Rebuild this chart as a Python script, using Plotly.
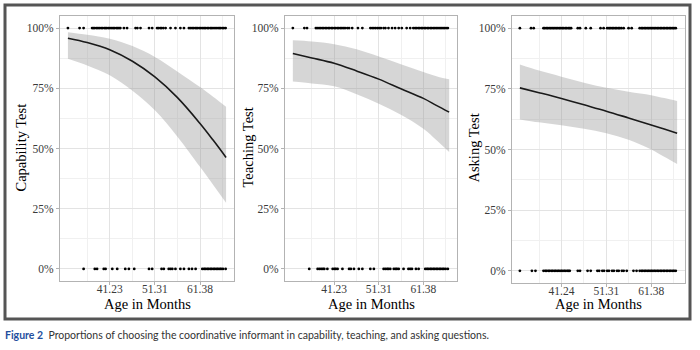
import plotly.graph_objects as go

# ---------------- data ----------------
age_grid = [31.9, 36.2, 41.23, 46.3, 51.31, 56.3, 61.38, 64.3, 67.2]

cap_fit   = [0.958, 0.940, 0.910, 0.862, 0.797, 0.712, 0.604, 0.535, 0.463]
cap_upper = [0.983, 0.972, 0.956, 0.925, 0.880, 0.820, 0.755, 0.715, 0.673]
cap_lower = [0.873, 0.845, 0.804, 0.740, 0.659, 0.550, 0.424, 0.350, 0.275]

tea_fit   = [0.894, 0.876, 0.854, 0.822, 0.788, 0.748, 0.708, 0.679, 0.651]
tea_upper = [0.949, 0.944, 0.933, 0.912, 0.882, 0.850, 0.818, 0.800, 0.787]
tea_lower = [0.778, 0.770, 0.758, 0.725, 0.686, 0.640, 0.582, 0.535, 0.485]

ask_fit   = [0.754, 0.734, 0.710, 0.684, 0.658, 0.630, 0.601, 0.584, 0.567]
ask_upper = [0.850, 0.825, 0.800, 0.775, 0.754, 0.738, 0.724, 0.712, 0.700]
ask_lower = [0.624, 0.612, 0.600, 0.585, 0.567, 0.540, 0.500, 0.470, 0.440]

cap_ones = [31.9, 34.5, 35.4, 37.3, 37.6, 37.9, 38.3, 38.6, 38.9, 39.3, 39.6, 40.0, 40.3,
            40.6, 41.0, 41.3, 41.7, 42.0, 42.3, 42.7, 43.0, 43.3, 43.6, 44.4, 45.1, 47.0,
            47.4, 48.1, 50.0, 50.7, 51.8, 52.1, 52.5, 52.8, 53.2, 53.7, 54.8, 55.9, 57.0,
            57.8, 58.9, 59.2, 59.6, 59.9, 60.3, 60.6, 60.9, 61.3, 61.6, 62.0, 62.3, 62.6,
            63.0, 63.3, 63.7, 64.0, 64.3, 64.7, 65.0, 65.4, 65.7, 66.0, 66.4, 66.7, 67.1]
cap_zeros = [35.4, 37.9, 38.4, 39.9, 40.3, 41.8, 42.9, 44.7, 45.5, 46.7, 50.0, 50.7, 52.8,
             53.3, 54.4, 54.8, 55.2, 55.9, 57.0, 57.8, 58.9, 59.6, 60.4, 61.9, 62.3, 62.6,
             63.0, 63.3, 63.7, 64.0, 64.4, 64.7, 65.1, 65.4, 65.8, 66.1, 66.5, 67.1]

tea_ones = [31.9, 34.5, 35.1, 37.1, 37.4, 37.8, 38.1, 38.5, 38.8, 39.2, 39.5, 39.9, 40.2,
            40.6, 40.9, 41.3, 41.6, 42.0, 42.3, 42.7, 43.0, 43.4, 43.7, 44.2, 44.6, 45.3,
            46.6, 47.6, 49.4, 49.8, 50.2, 50.6, 51.0, 51.4, 51.8, 52.4, 52.8, 53.5, 54.3,
            55.0, 55.8, 56.5, 57.6, 58.4, 59.1, 59.5, 59.8, 60.2, 60.5, 60.9, 61.2, 61.6,
            61.9, 62.3, 62.6, 63.0, 63.3, 63.7, 64.0, 64.4, 64.7, 65.1, 65.4, 65.8, 66.1,
            66.5, 66.9]
tea_zeros = [35.6, 37.5, 37.9, 38.3, 38.7, 39.0, 39.7, 40.9, 41.3, 41.6, 42.0, 43.1, 44.6,
             45.0, 45.7, 46.8, 47.6, 49.4, 50.2, 52.4, 52.8, 53.2, 53.5, 53.9, 54.7, 55.1,
             55.4, 55.8, 56.9, 58.0, 58.4, 58.8, 59.7, 60.3, 61.8, 62.2, 62.5, 62.9, 63.2,
             63.6, 63.9, 64.3, 64.6, 65.0, 65.3, 65.7, 66.0, 66.4, 66.9]

ask_ones = [31.9, 34.4, 35.0, 37.2, 37.5, 37.9, 38.2, 38.6, 38.9, 39.3, 39.6, 40.0, 40.3,
            40.7, 41.0, 41.4, 41.7, 42.1, 42.4, 42.8, 43.1, 43.4, 44.9, 45.4, 46.7, 47.8,
            50.0, 50.7, 51.5, 51.9, 52.2, 52.6, 52.9, 53.3, 53.6, 54.0, 54.3, 54.7, 55.2,
            56.3, 57.0, 58.8, 59.2, 59.5, 59.9, 60.2, 60.6, 60.9, 61.3, 61.6, 62.0, 62.3,
            62.7, 63.0, 63.4, 63.7, 64.1, 64.4, 64.8, 65.1, 65.5, 65.8, 66.2, 66.5, 66.9]
ask_zeros = [31.9, 34.6, 35.4, 37.2, 37.6, 37.9, 38.3, 38.6, 39.0, 39.3, 39.7, 40.0, 40.4,
             40.7, 41.1, 41.4, 41.8, 42.1, 42.5, 42.8, 43.1, 44.9, 45.4, 47.1, 47.8, 49.3,
             49.7, 50.4, 50.8, 51.5, 51.9, 52.6, 53.0, 53.7, 54.1, 54.8, 55.2, 55.9, 57.4,
             58.1, 58.8, 59.2, 59.5, 59.9, 60.2, 60.6, 60.9, 61.3, 61.6, 62.0, 62.3, 62.7,
             63.0, 63.4, 63.7, 64.1, 64.4, 64.8, 65.1, 65.5, 65.8, 66.2, 66.5, 66.9]

x_ticks_a = [41.23, 51.31, 61.38]
x_labels_a = ["41.23", "51.31", "61.38"]
x_ticks_b = [41.24, 51.31, 61.38]
x_labels_b = ["41.24", "51.31", "61.38"]
y_ticks = [0, 0.25, 0.5, 0.75, 1.0]
y_labels = ["0%", "25%", "50%", "75%", "100%"]

titles = ["Capability Test", "Teaching Test", "Asking Test"]
x_title = "Age in Months"
caption_bold = "Figure 2"
caption_text = "Proportions of choosing the coordinative informant in capability, teaching, and asking questions."

# ---------------- layout geometry (pixels in 700x350) ----------------
W, H = 700, 350
panels_px = [  # x0, x1, ytop, ybottom
    (60, 234, 16, 281),
    (285, 457, 16, 281),
    (512, 685, 16, 283),
]
title_x_px = [20, 247, 473]

panels = [
    (cap_fit, cap_upper, cap_lower, cap_ones, cap_zeros, x_ticks_a, x_labels_a),
    (tea_fit, tea_upper, tea_lower, tea_ones, tea_zeros, x_ticks_a, x_labels_a),
    (ask_fit, ask_upper, ask_lower, ask_ones, ask_zeros, x_ticks_b, x_labels_b),
]

SERIF = "Liberation Serif"
fig = go.Figure()
layout_axes = {}
annotations = []

for i, (fit, up, lo, ones, zeros, xt, xl) in enumerate(panels):
    n = "" if i == 0 else str(i + 1)
    xa, ya = "x" + n, "y" + n
    fig.add_trace(go.Scatter(x=age_grid, y=up, mode="lines", line=dict(width=0, shape="spline"),
                             xaxis=xa, yaxis=ya, showlegend=False, hoverinfo="skip"))
    fig.add_trace(go.Scatter(x=age_grid, y=lo, mode="lines", line=dict(width=0, shape="spline"),
                             fill="tonexty", fillcolor="rgba(153,153,153,0.4)",
                             xaxis=xa, yaxis=ya, showlegend=False, hoverinfo="skip"))
    fig.add_trace(go.Scatter(x=age_grid, y=fit, mode="lines",
                             line=dict(color="#1a1a1a", width=1.6, shape="spline"),
                             xaxis=xa, yaxis=ya, showlegend=False))
    fig.add_trace(go.Scatter(x=ones, y=[1] * len(ones), mode="markers",
                             marker=dict(color="black", size=2.8),
                             xaxis=xa, yaxis=ya, showlegend=False))
    fig.add_trace(go.Scatter(x=zeros, y=[0] * len(zeros), mode="markers",
                             marker=dict(color="black", size=2.8),
                             xaxis=xa, yaxis=ya, showlegend=False))

    x0, x1, yt, yb = panels_px[i]
    minor_x = [xt[0] - (xt[1] - xt[0]) / 2, (xt[0] + xt[1]) / 2, (xt[1] + xt[2]) / 2,
               xt[2] + (xt[2] - xt[1]) / 2]
    layout_axes["xaxis" + n] = dict(
        domain=[x0 / W, x1 / W], anchor=ya, range=[30.13, 68.97],
        tickvals=xt, ticktext=xl, ticks="outside", ticklen=3, tickcolor="#b3b3b3",
        ticklabelstandoff=-6,
        showgrid=True, gridcolor="#e3e3e3", gridwidth=0.8,
        minor=dict(tickvals=minor_x, showgrid=True, gridcolor="#f0f0f0", gridwidth=0.6),
        showline=True, mirror=True, linecolor="#b3b3b3", linewidth=1, zeroline=False,
        tickfont=dict(family=SERIF, size=11.5, color="#3a3a3a"),
    )
    layout_axes["yaxis" + n] = dict(
        domain=[1 - yb / H, 1 - yt / H], anchor=xa, range=[-0.05, 1.05],
        tickvals=y_ticks, ticktext=y_labels, ticks="outside", ticklen=3, tickcolor="#b3b3b3",
        showgrid=True, gridcolor="#e3e3e3", gridwidth=0.8,
        minor=dict(tickvals=[0.125, 0.375, 0.625, 0.875], showgrid=True,
                   gridcolor="#f0f0f0", gridwidth=0.6),
        showline=True, mirror=True, linecolor="#b3b3b3", linewidth=1, zeroline=False,
        tickfont=dict(family=SERIF, size=11.5, color="#3a3a3a"),
    )
    annotations.append(dict(text=titles[i], x=title_x_px[i] / W, y=1 - ((yt + yb) / 2 - 1) / H,
                            xref="paper", yref="paper", showarrow=False, textangle=-90,
                            xanchor="center", yanchor="middle",
                            font=dict(family=SERIF, size=14.5, color="black")))
    annotations.append(dict(text=x_title, x=(x0 + x1) / 2 / W, y=1 - 304 / H,
                            xref="paper", yref="paper", showarrow=False,
                            xanchor="center", yanchor="middle",
                            font=dict(family=SERIF, size=14.5, color="black")))

annotations.append(dict(
    text=f"<b><span style='color:#1f4f9e'>{caption_bold}</span></b>  {caption_text}",
    x=3 / W, y=1 - 335 / H, xref="paper", yref="paper", showarrow=False,
    xanchor="left", yanchor="middle",
    font=dict(family="Lato", size=10.5, color="#333333")))

fig.update_layout(
    width=W, height=H, margin=dict(l=0, r=0, t=0, b=0),
    paper_bgcolor="white", plot_bgcolor="white",
    annotations=annotations,
    shapes=[dict(type="rect", xref="paper", yref="paper",
                 x0=5 / W, x1=690 / W, y0=1 - 319 / H, y1=1 - 5 / H,
                 line=dict(color="#555555", width=3))],
    **layout_axes,
)

fig.write_html("out.html")
